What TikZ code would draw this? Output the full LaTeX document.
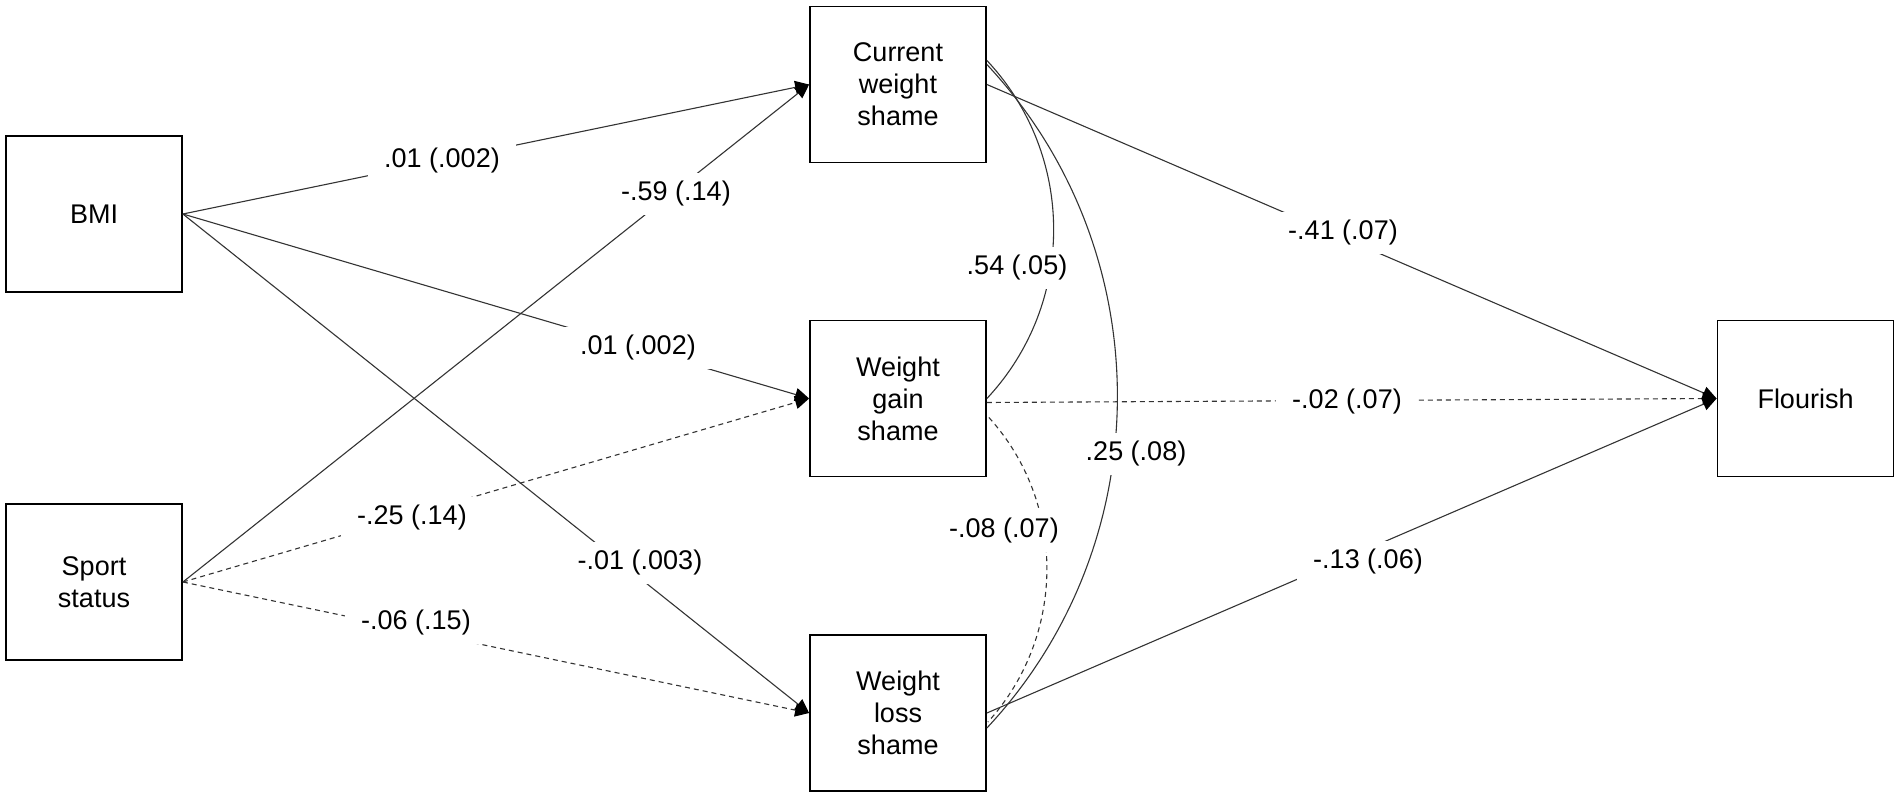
\documentclass[tikz,border=0pt]{standalone}
\usepackage{fontspec}
\setmainfont{Liberation Sans}
\usetikzlibrary{arrows.meta,calc}
\begin{document}
\begin{tikzpicture}[x=1pt,y=-1pt,
  box/.style={draw=black,line width=1.8pt,minimum width=176pt,minimum height=156pt,inner sep=0pt,align=center,font=\fontsize{27}{32}\selectfont},
  conn/.style={draw=black!80,line width=1.1pt},
  arr/.style={conn,-{Triangle[length=14pt,width=13pt,color=black,fill=black]}},
  dsh/.style={dash pattern=on 5pt off 4pt},
  lbl/.style={fill=white,inner xsep=16pt,inner ysep=8pt,font=\fontsize{27}{32}\selectfont}
]
\useasboundingbox (0,0) rectangle (1901,800);
\node[box] (bmi) at (94,214) {BMI};
\node[box] (sport) at (94,582) {Sport\\status};
\node[box] (cur) at (898,84.5) {Current\\weight\\shame};
\node[box] (gain) at (898,398.5) {Weight\\gain\\shame};
\node[box] (loss) at (898,713) {Weight\\loss\\shame};
\node[box] (flour) at (1805.5,398.5) {Flourish};

\draw[arr] (bmi.east) -- (cur.west);
\draw[arr] (sport.east) -- (cur.west);
\draw[arr] (bmi.east) -- (gain.west);
\draw[arr,dsh] (sport.east) -- (gain.west);
\draw[arr] (bmi.east) -- (loss.west);
\draw[arr,dsh] (sport.east) -- (loss.west);
\draw[arr] (cur.east) -- (flour.west);
\draw[arr,dsh] ($(gain.east)+(0,4)$) -- (flour.west);
\draw[arr] (loss.east) -- (flour.west);

\draw[conn] ($(cur.east)+(0,-24)$) .. controls +(89,95) and +(89,-95) .. (gain.east);
\draw[conn] ($(cur.east)+(0,-20)$) .. controls +(174,186) and +(174,-186) .. ($(loss.east)+(0,15)$);
\draw[conn,dsh] ($(gain.east)+(2,19)$) .. controls +(78,86) and +(78,-86) .. ($(loss.east)+(1,9)$);

\node[lbl] (l1) at (442,161) {.01 (.002)};
\node[lbl] (l2) at (676,194) {-.59 (.14)};
\node[lbl] (l3) at (638,348) {.01 (.002)};
\node[lbl] (l4) at (412,518) {-.25 (.14)};
\node[lbl] (l5) at (640,563) {-.01 (.003)};
\node[lbl] (l6) at (416,623) {-.06 (.15)};
\node[lbl] (l7) at (1017,268) {.54 (.05)};
\node[lbl] (l8) at (1136,454) {.25 (.08)};
\node[lbl] (l9) at (1004,531) {-.08 (.07)};
\node[lbl] (l10) at (1343,233) {-.41 (.07)};
\node[lbl] (l11) at (1347,402) {-.02 (.07)};
\node[lbl] (l12) at (1368,562) {-.13 (.06)};
\end{tikzpicture}
\end{document}
